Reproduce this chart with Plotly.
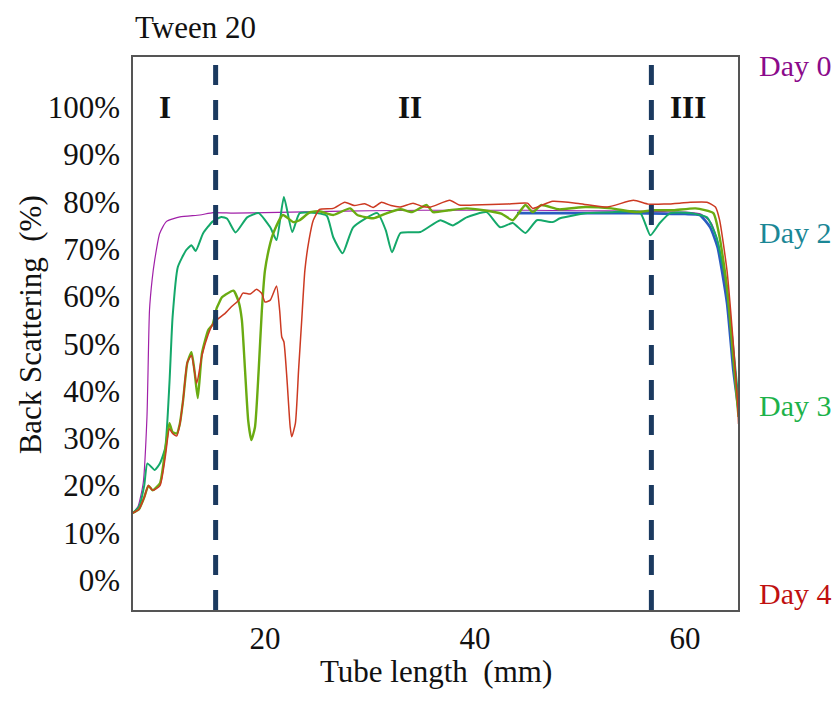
import plotly.graph_objects as go

# ---------------- data (tube length in mm, back scattering in %) ----------------
day0_x = [7.4, 7.9, 8.4, 8.76, 9.0, 9.25, 9.5, 9.97, 10.6, 11.9, 13.8, 15.05, 17, 20, 25, 30, 35, 40, 45, 50, 55, 58, 60, 61.5, 62.5, 63.2, 64.1, 64.8, 65.1]
day0_y = [14.2, 15.5, 20.5, 34.5, 57.0, 63.5, 67.7, 73.3, 75.8, 76.8, 77.2, 77.7, 77.6, 77.7, 77.9, 78.1, 78.2, 78.2, 78.2, 78.1, 78.0, 77.9, 77.8, 77.4, 75.5, 71.0, 58.6, 44.4, 36.5]

day1_x = [44, 47, 50, 53, 55, 58, 60, 61.4, 62.4, 63.1, 64.0, 64.6, 65.1]
day1_y = [77.6, 77.6, 77.6, 77.6, 77.6, 77.5, 77.4, 77.2, 74.6, 70.4, 58.6, 44.4, 36.0]

day2_x = [7.4, 8.0, 8.5, 8.8, 9.5, 10.0, 10.5, 10.9, 11.2, 11.7, 12.5, 13.0, 13.4, 14.1, 15.0, 15.85, 16.4, 17.2, 18.3, 19.4, 20.5, 21.1, 21.8, 22.6, 23.3, 24.9, 25.9, 26.5, 27.4, 28.4, 30.7, 31.5, 32.1, 32.9, 34.8, 36.7, 37.9, 39.2, 41.1, 42.4, 43.6, 44.8, 45.9, 47.4, 48.1, 50.7, 53.1, 55.7, 56.7, 57.6, 58.6, 60.5, 62.1, 63.0, 63.8, 64.5, 65.1]
day2_y = [14.2, 15.5, 20.0, 24.7, 23.3, 24.7, 28.0, 41.6, 55.6, 66.2, 69.8, 70.8, 69.6, 73.3, 75.8, 76.8, 76.4, 73.5, 76.7, 77.6, 74.6, 71.9, 81.0, 73.6, 77.6, 77.6, 77.0, 72.5, 69.1, 74.6, 77.6, 74.0, 69.3, 73.4, 73.6, 76.1, 75.0, 76.7, 77.8, 74.6, 75.5, 73.4, 76.1, 75.7, 76.5, 77.6, 77.8, 77.8, 72.9, 75.5, 77.6, 77.6, 76.7, 72.5, 64.0, 51.4, 38.0]

day3_x = [7.4, 8.0, 8.5, 8.9, 9.3, 10.0, 10.5, 10.9, 11.2, 11.6, 11.9, 12.2, 12.6, 13.0, 13.3, 13.6, 14.0, 14.6, 15.0, 15.4, 15.9, 16.2, 17.0, 17.5, 17.8, 18.1, 18.4, 18.7, 19.05, 19.4, 19.7, 20.0, 20.5, 20.8, 21.7, 22.7, 23.3, 24.3, 25.2, 26.5, 28.1, 28.8, 30.3, 31.5, 32.9, 34.0, 35.4, 36.0, 37.5, 39.2, 40.8, 42.5, 43.6, 44.8, 45.5, 46.3, 48.0, 50.5, 53.0, 55.4, 57.0, 58.9, 61.0, 62.7, 63.3, 64.0, 64.6, 65.1]
day3_y = [14.2, 15.0, 17.5, 20.0, 19.0, 20.5, 27.5, 33.2, 31.3, 31.0, 33.2, 38.0, 45.9, 48.2, 44.0, 38.5, 48.0, 52.9, 54.0, 57.5, 59.8, 60.3, 61.2, 58.8, 55.0, 44.4, 33.8, 29.6, 32.4, 44.4, 57.0, 65.5, 71.2, 73.4, 77.2, 75.7, 76.1, 77.8, 78.0, 77.2, 78.6, 77.2, 76.5, 77.5, 78.4, 77.8, 79.3, 77.8, 78.2, 78.6, 78.2, 77.5, 76.1, 79.3, 77.8, 79.3, 78.4, 78.9, 78.6, 77.8, 78.2, 78.2, 78.6, 77.6, 72.5, 62.0, 47.0, 34.5]

day4_x = [7.4, 8.0, 8.5, 8.9, 9.3, 10.0, 10.5, 10.9, 11.2, 11.6, 11.9, 12.2, 12.6, 13.0, 13.5, 14.0, 14.6, 15.0, 15.4, 16.2, 16.8, 17.5, 17.9, 18.6, 19.2, 19.7, 20.0, 20.5, 21.1, 21.4, 21.6, 21.8, 22.1, 22.4, 22.55, 22.9, 23.2, 23.5, 23.8, 24.2, 24.6, 25.2, 26.5, 27.6, 28.5, 29.5, 30.3, 31.1, 32.0, 32.9, 34.1, 35.0, 35.8, 37.6, 38.5, 39.8, 41.5, 43.0, 45.0, 45.5, 47.4, 50.0, 52.6, 55.1, 56.5, 58.0, 59.5, 60.5, 62.1, 62.9, 63.3, 64.0, 64.6, 65.0, 65.1]
day4_y = [14.2, 15.0, 17.5, 20.0, 19.0, 20.0, 26.0, 32.0, 31.0, 30.5, 33.0, 38.0, 46.0, 47.5, 41.6, 47.5, 52.0, 54.0, 55.0, 56.4, 57.8, 59.2, 60.7, 60.5, 61.5, 60.6, 58.8, 59.2, 62.2, 57.0, 51.4, 50.4, 42.3, 32.4, 30.3, 33.2, 44.4, 55.0, 65.5, 72.0, 76.1, 78.4, 78.6, 79.9, 79.2, 79.6, 78.8, 79.9, 79.2, 78.9, 79.7, 79.0, 78.9, 80.3, 79.3, 79.3, 79.4, 79.5, 79.7, 78.6, 80.1, 79.6, 78.9, 80.3, 79.5, 79.5, 79.7, 79.9, 79.9, 78.9, 76.1, 65.5, 50.1, 38.0, 33.0]

y_tickvals = [0, 10, 20, 30, 40, 50, 60, 70, 80, 90, 100]
y_ticktext = ["0%", "10%", "20%", "30%", "40%", "50%", "60%", "70%", "80%", "90%", "100%"]
x_tickvals = [20, 40, 60]
x_ticktext = ["20", "40", "60"]

zone_bounds = [15.3, 56.8]
zone_labels = ["I", "II", "III"]
zone_label_x = [10.5, 33.8, 60.3]

day_labels = ["Day 0", "Day 2", "Day 3", "Day 4"]
day_label_colors = ["#8b0a8b", "#1b8796", "#1db24a", "#c01010"]
day_label_y = [0.9855, 0.6835, 0.3707, 0.0307]

FONT = "Liberation Serif, Times New Roman, serif"

fig = go.Figure()
series = [
    (day1_x, day1_y, "#2a5cc0", 2.6),
    (day0_x, day0_y, "#a020a8", 1.2),
    (day2_x, day2_y, "#14a86a", 2.0),
    (day3_x, day3_y, "#6aab12", 2.4),
    (day4_x, day4_y, "#cc3a22", 1.5),
]
for xs, ys, col, w in series:
    fig.add_trace(go.Scatter(x=xs, y=ys, mode="lines",
                             line=dict(color=col, width=w, shape="spline", smoothing=0.5),
                             showlegend=False, hoverinfo="skip"))

for xb in zone_bounds:
    fig.add_shape(type="line", xref="x", yref="paper", x0=xb, x1=xb, y0=0, y1=1,
                  line=dict(color="#1b3a60", width=5, dash="20px,15px"), layer="above")

for lab, lx in zip(zone_labels, zone_label_x):
    fig.add_annotation(x=lx, y=100, xref="x", yref="y", text="<b>%s</b>" % lab,
                       showarrow=False, font=dict(family=FONT, size=31, color="#111"))

for lab, col, ly in zip(day_labels, day_label_colors, day_label_y):
    fig.add_annotation(x=1.031, y=ly, xref="paper", yref="paper", text=lab,
                       xanchor="left", yanchor="middle", showarrow=False,
                       font=dict(family=FONT, size=30, color=col))

fig.add_annotation(x=0, y=1.054, xref="paper", yref="paper", text="Tween 20",
                   xanchor="left", yanchor="middle", showarrow=False,
                   font=dict(family=FONT, size=31, color="#111"))

# axis titles
fig.add_annotation(x=0.5, y=-0.112, xref="paper", yref="paper", text="Tube length  (mm)",
                   xanchor="center", yanchor="middle", showarrow=False,
                   font=dict(family=FONT, size=31, color="#111"))
fig.add_annotation(x=-0.170, y=0.515, xref="paper", yref="paper", text="Back Scattering  (%)",
                   xanchor="center", yanchor="middle", showarrow=False, textangle=-90,
                   font=dict(family=FONT, size=31, color="#111"))

fig.update_layout(
    width=832, height=697,
    margin=dict(l=125, r=102, t=49, b=95),
    paper_bgcolor="white", plot_bgcolor="white",
    font=dict(family=FONT, size=31, color="#111"),
    xaxis=dict(range=[7.43, 65.05], tickvals=x_tickvals, ticktext=x_ticktext,
               showgrid=False, zeroline=False, showline=True, mirror=True,
               linecolor="#555", linewidth=1.5, ticks="", ticklabelstandoff=0),
    yaxis=dict(range=[-6.3, 110.6], tickvals=y_tickvals, ticktext=y_ticktext,
               showgrid=False, zeroline=False, showline=True, mirror=True,
               linecolor="#555", linewidth=1.5, ticks="", ticklabelstandoff=5),
)

fig.write_html("out.html")
